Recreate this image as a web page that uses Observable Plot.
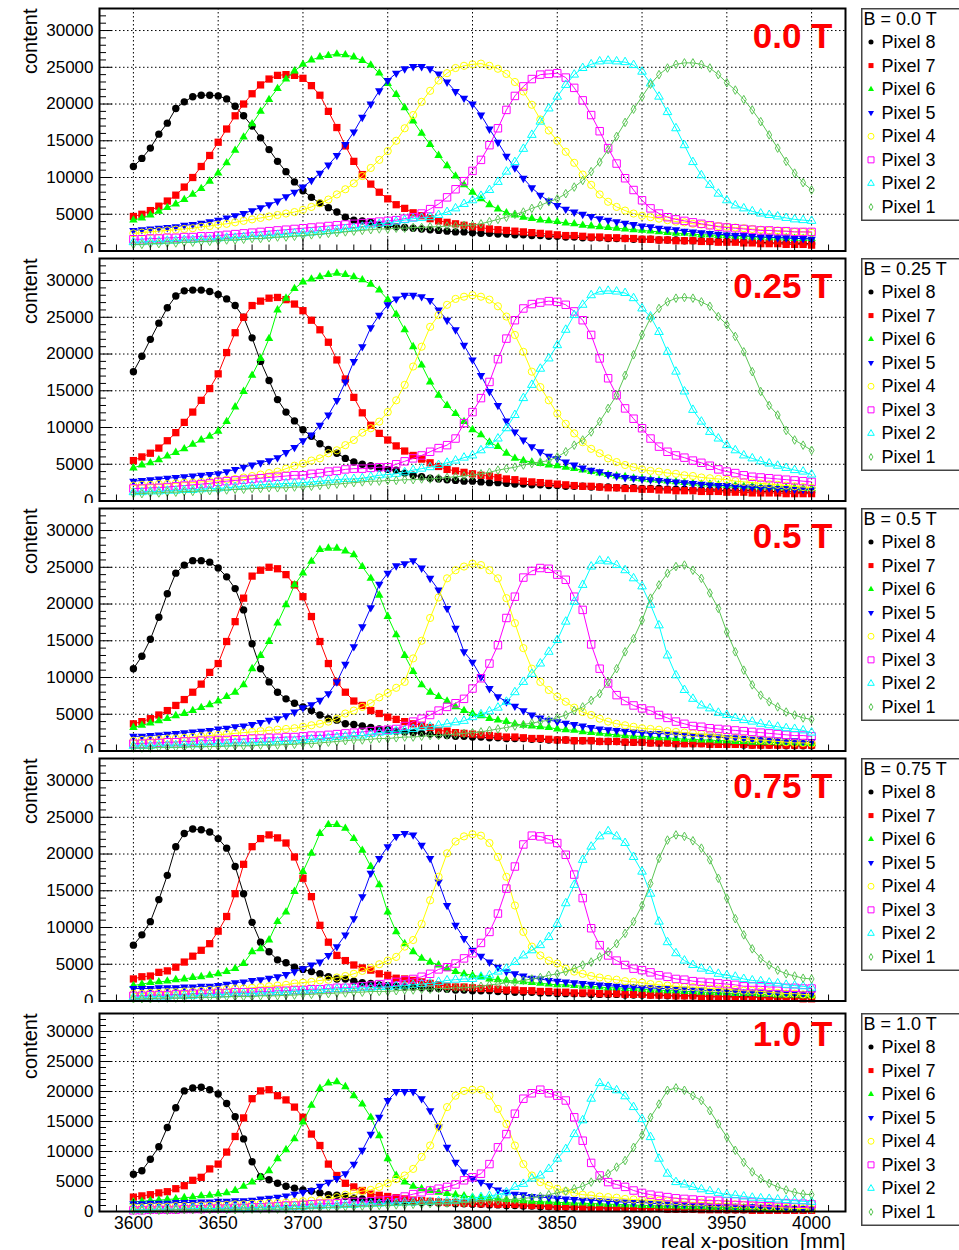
<!DOCTYPE html>
<html><head><meta charset="utf-8">
<script src="https://cdn.jsdelivr.net/npm/d3@7"></script>
<script src="https://cdn.jsdelivr.net/npm/@observablehq/plot@0.6"></script>
<style>
html,body{margin:0;padding:0;background:#fff;}
#page{position:relative;width:959px;height:1250px;overflow:hidden;background:#fff;font-family:"Liberation Sans",Arial,Helvetica,sans-serif;}
.pad{position:absolute;left:0;width:959px;}
.pad svg{display:block;overflow:hidden;background:transparent;}
.legend{position:absolute;left:861px;}
.legend svg{display:block;overflow:visible;}
</style></head><body><div id="page"></div>
<script>
// ---------- data (content in thousands of counts, one value every 5 mm) ----------
const positions = d3.range(3600, 4001, 5); // real x-position [mm]
const fieldLabels = ["0.0 T", "0.25 T", "0.5 T", "0.75 T", "1.0 T"];
const legendHeaders = ["B = 0.0 T", "B = 0.25 T", "B = 0.5 T", "B = 0.75 T", "B = 1.0 T"];
const pixelNames = ["Pixel 8", "Pixel 7", "Pixel 6", "Pixel 5", "Pixel 4", "Pixel 3", "Pixel 2", "Pixel 1"];
const yMajorTicks = [0, 5000, 10000, 15000, 20000, 25000, 30000];
const xMajorTicks = [3600, 3650, 3700, 3750, 3800, 3850, 3900, 3950, 4000];

const b00_p8 = [11.5,12.6,14.0,15.9,17.4,19.4,20.3,21.0,21.2,21.2,21.1,20.7,19.7,18.4,17.0,15.4,13.8,12.2,10.8,9.4,8.2,7.3,6.5,5.9,5.3,4.6,4.2,4.1,3.9,3.6,3.4,3.3,3.2,3.1,3.0,2.9,2.8,2.7,2.6,2.6,2.5,2.4,2.4,2.3,2.3,2.2,2.2,2.1,2.1,2.0,2.0,1.9,1.9,1.8,1.8,1.8,1.7,1.7,1.7,1.6,1.6,1.6,1.5,1.5,1.5,1.4,1.4,1.4,1.3,1.3,1.3,1.3,1.2,1.2,1.2,1.1,1.1,1.1,1.1,1.0,1.0];
const b00_p7 = [4.7,5.0,5.5,6.1,6.8,7.6,8.7,10.0,11.5,13.0,14.8,16.6,18.4,20.0,21.4,22.6,23.4,23.9,24.0,23.9,23.5,22.5,21.2,19.0,16.8,14.3,12.2,10.4,9.1,8.0,7.1,6.3,5.8,5.2,4.8,4.4,4.1,3.9,3.7,3.5,3.3,3.2,3.0,2.9,2.8,2.7,2.6,2.5,2.4,2.3,2.2,2.1,2.1,2.0,1.9,1.9,1.8,1.8,1.7,1.7,1.6,1.6,1.5,1.5,1.4,1.4,1.4,1.3,1.3,1.2,1.2,1.2,1.1,1.1,1.0,1.0,1.0,0.9,0.9,0.9,0.8];
const b00_p6 = [4.2,4.5,4.9,5.4,5.9,6.4,7.0,7.7,8.5,9.5,10.6,12.0,13.7,15.5,17.3,19.0,20.6,22.1,23.4,24.5,25.4,26.0,26.4,26.6,26.8,26.7,26.4,25.9,25.3,24.2,22.8,21.3,19.5,17.7,16.0,14.5,13.0,11.6,10.2,9.0,8.0,7.1,6.3,5.7,5.2,4.9,4.6,4.4,4.2,4.1,4.0,3.8,3.7,3.5,3.4,3.3,3.2,3.1,3.0,2.9,2.8,2.7,2.6,2.5,2.4,2.4,2.3,2.2,2.2,2.1,2.1,2.0,2.0,1.9,1.9,1.8,1.8,1.8,1.7,1.7,1.7];
const b00_p5 = [2.8,2.9,3.0,3.1,3.2,3.3,3.5,3.6,3.8,4.0,4.2,4.5,4.8,5.1,5.5,5.9,6.3,6.8,7.4,8.0,8.7,9.6,10.6,11.7,13.0,14.5,16.2,18.2,20.0,21.8,23.2,24.2,24.8,25.1,25.1,24.8,24.1,23.0,21.7,20.8,20.0,18.5,16.6,14.8,12.9,11.3,9.9,8.6,7.6,6.8,6.2,5.7,5.3,5.0,4.7,4.4,4.2,4.0,3.8,3.6,3.4,3.3,3.1,3.0,2.9,2.7,2.6,2.5,2.4,2.3,2.2,2.1,2.1,2.0,1.9,1.9,1.8,1.8,1.7,1.7,1.6];
const b00_p4 = [2.4,2.5,2.6,2.7,2.8,2.9,3.0,3.1,3.3,3.4,3.6,3.7,3.9,4.1,4.3,4.5,4.7,4.9,5.1,5.3,5.6,6.0,6.5,7.0,7.7,8.4,9.2,10.2,11.3,12.4,13.6,15.0,16.7,18.5,20.3,21.8,23.2,24.2,24.9,25.2,25.4,25.5,25.2,24.8,24.1,23.0,21.7,19.9,17.9,16.4,15.0,13.5,12.0,10.4,9.0,7.7,6.7,6.0,5.5,5.1,4.8,4.6,4.4,4.2,4.0,3.9,3.7,3.6,3.5,3.4,3.3,3.2,3.1,3.0,2.9,2.8,2.8,2.7,2.6,2.6,2.5];
const b00_p3 = [1.6,1.6,1.7,1.7,1.8,1.8,1.9,1.9,2.0,2.0,2.1,2.2,2.3,2.4,2.5,2.6,2.7,2.8,2.9,3.0,3.1,3.2,3.3,3.4,3.5,3.6,3.7,3.8,3.9,4.0,4.1,4.2,4.4,4.6,5.1,5.7,6.4,7.3,8.4,9.5,10.9,12.4,14.4,16.7,19.2,21.1,22.4,23.4,24.0,24.1,24.2,23.6,22.2,20.5,18.5,16.3,14.0,11.9,9.9,8.3,6.9,5.8,5.1,4.6,4.3,4.1,3.9,3.7,3.5,3.3,3.2,3.1,3.0,2.9,2.8,2.8,2.7,2.7,2.6,2.6,2.6];
const b00_p2 = [1.2,1.2,1.3,1.3,1.4,1.4,1.5,1.5,1.6,1.6,1.7,1.8,1.8,1.9,2.0,2.0,2.1,2.2,2.3,2.4,2.4,2.5,2.6,2.7,2.8,3.0,3.1,3.3,3.5,3.7,3.8,4.0,4.2,4.4,4.5,4.6,4.9,5.3,5.8,6.4,6.9,7.5,8.3,9.4,10.8,12.1,13.9,15.8,17.6,19.4,21.0,22.6,24.0,24.9,25.4,25.8,25.9,25.8,25.7,25.3,24.4,22.8,21.0,18.9,16.7,14.4,12.1,10.3,9.0,7.8,6.9,6.2,5.8,5.4,5.1,4.9,4.7,4.5,4.3,4.2,4.1];
const b00_p1 = [0.9,0.9,1.0,1.0,1.1,1.1,1.2,1.2,1.3,1.3,1.4,1.5,1.5,1.6,1.7,1.7,1.8,1.9,1.9,2.0,2.1,2.2,2.3,2.4,2.5,2.6,2.7,2.8,2.9,3.0,3.0,3.1,3.1,3.2,3.2,3.3,3.3,3.4,3.4,3.5,3.5,3.7,4.0,4.3,4.6,5.0,5.3,5.8,6.2,6.7,7.1,7.8,8.7,9.6,10.8,12.1,13.8,15.6,17.5,19.3,21.0,22.7,24.0,24.9,25.4,25.6,25.6,25.4,24.9,24.0,22.9,21.9,20.6,19.2,17.6,15.8,14.0,12.2,10.6,9.3,8.3];

const b025_p8 = [17.6,19.7,22.0,24.2,26.3,27.9,28.6,28.7,28.7,28.5,28.1,27.5,26.6,25.0,22.2,19.0,16.4,13.8,12.1,10.9,9.7,8.8,7.8,7.0,6.5,5.8,5.3,5.0,4.8,4.5,4.3,4.2,3.8,3.5,3.3,3.1,3.0,2.9,2.8,2.7,2.7,2.6,2.5,2.5,2.4,2.3,2.3,2.2,2.2,2.1,2.1,2.0,2.0,2.0,1.9,1.9,1.9,1.8,1.8,1.8,1.7,1.7,1.7,1.6,1.6,1.6,1.5,1.5,1.5,1.5,1.4,1.4,1.4,1.4,1.3,1.3,1.3,1.3,1.2,1.2,1.2];
const b025_p7 = [5.5,6.0,6.5,7.2,8.2,9.3,10.7,12.1,13.7,15.3,17.3,20.2,22.9,25.0,26.6,27.2,27.6,27.7,27.4,26.8,25.9,24.6,23.3,21.6,19.2,16.6,14.1,12.0,10.3,9.2,8.3,7.5,6.8,6.2,5.7,5.2,4.7,4.3,4.1,3.9,3.7,3.5,3.4,3.2,3.0,2.9,2.7,2.6,2.5,2.4,2.3,2.2,2.1,2.0,2.0,1.9,1.8,1.8,1.7,1.7,1.6,1.6,1.5,1.5,1.4,1.4,1.4,1.3,1.3,1.3,1.2,1.2,1.2,1.1,1.1,1.1,1.1,1.0,1.0,1.0,1.0];
const b025_p6 = [4.5,4.9,5.2,5.6,6.1,6.6,7.1,7.7,8.3,8.8,9.5,10.8,12.8,14.9,17.1,19.4,22.1,26.0,27.6,28.9,29.8,30.2,30.5,30.8,31.0,30.8,30.5,30.1,29.5,28.7,27.4,25.4,23.3,21.0,18.5,16.2,14.4,13.0,11.9,10.8,9.7,9.0,8.0,7.4,6.5,5.8,5.5,5.3,5.1,4.9,4.8,4.6,4.4,4.2,4.0,3.8,3.6,3.4,3.3,3.1,3.0,2.9,2.8,2.7,2.6,2.5,2.4,2.3,2.3,2.2,2.1,2.1,2.0,2.0,1.9,1.9,1.8,1.8,1.8,1.7,1.7];
const b025_p5 = [2.7,2.8,2.9,3.0,3.1,3.2,3.3,3.4,3.5,3.6,3.7,4.0,4.3,4.6,4.9,5.2,5.5,5.9,6.6,7.3,8.2,9.0,10.3,11.7,13.7,16.2,19.0,21.0,23.6,25.3,26.7,27.5,28.0,28.0,27.8,27.3,26.0,24.6,23.3,21.2,19.2,17.1,14.9,13.0,10.9,9.4,8.3,7.4,6.7,6.1,5.8,5.3,4.9,4.5,4.2,4.0,3.6,3.4,3.2,3.1,3.0,2.9,2.8,2.7,2.6,2.5,2.4,2.3,2.2,2.1,2.1,2.0,1.9,1.9,1.8,1.8,1.7,1.7,1.6,1.6,1.5];
const b025_p4 = [2.1,2.2,2.2,2.3,2.3,2.4,2.5,2.5,2.6,2.7,2.8,2.9,3.0,3.2,3.4,3.6,3.8,4.0,4.4,4.8,5.1,5.5,5.8,6.5,6.9,7.6,8.3,9.3,9.9,10.8,12.1,13.7,15.8,18.3,21.0,23.7,25.3,26.7,27.5,27.8,28.0,27.8,27.4,26.5,25.1,22.6,20.3,17.6,15.5,13.7,11.9,10.5,9.2,8.0,7.1,6.5,5.8,5.3,4.9,4.6,4.3,4.1,4.0,3.8,3.7,3.5,3.4,3.2,3.1,3.0,2.9,2.7,2.6,2.5,2.4,2.3,2.2,2.1,2.0,1.9,1.8];
const b025_p3 = [1.7,1.7,1.8,1.8,1.9,2.0,2.1,2.2,2.3,2.4,2.6,2.7,2.8,2.9,3.0,3.1,3.2,3.3,3.4,3.5,3.5,3.7,3.8,4.0,4.1,4.3,4.4,4.4,4.5,4.6,4.6,5.0,5.4,5.8,6.2,6.7,7.2,7.6,8.5,10.6,12.1,14.0,16.2,19.3,22.1,24.6,26.2,26.8,27.0,27.2,27.1,26.7,25.8,24.6,22.6,19.4,16.7,14.4,12.6,11.2,9.9,8.5,7.4,6.7,6.2,5.9,5.5,5.2,4.8,4.3,4.0,3.8,3.5,3.3,3.2,3.1,3.0,2.9,2.8,2.7,2.6];
const b025_p2 = [1.2,1.2,1.3,1.3,1.4,1.4,1.5,1.5,1.6,1.7,1.7,1.8,1.9,2.0,2.1,2.2,2.3,2.3,2.4,2.4,2.5,2.6,2.7,2.8,2.9,3.0,3.0,3.1,3.3,3.5,3.6,3.7,3.9,4.2,4.4,4.6,4.9,5.2,5.5,5.9,6.2,6.9,7.6,8.5,9.9,11.7,14.0,15.8,18.0,19.4,21.2,23.3,25.3,26.7,28.0,28.5,28.6,28.5,28.3,27.6,26.2,25.1,23.0,20.3,17.6,14.9,12.4,10.8,9.4,8.5,7.6,6.9,6.2,5.8,5.4,5.1,4.8,4.5,4.2,4.0,3.6];
const b025_p1 = [1.0,1.0,1.1,1.1,1.2,1.2,1.3,1.3,1.4,1.4,1.5,1.5,1.6,1.6,1.7,1.7,1.8,1.8,1.8,1.9,1.9,2.0,2.1,2.2,2.3,2.4,2.5,2.6,2.7,2.7,2.8,2.8,2.9,2.9,3.0,3.0,3.1,3.2,3.3,3.4,3.5,3.7,3.9,4.2,4.4,4.6,4.9,5.1,5.3,5.5,6.0,6.7,7.6,8.3,9.4,10.8,12.6,14.4,17.1,19.9,22.6,24.9,26.2,27.1,27.6,27.7,27.6,27.1,26.5,25.1,24.0,22.4,20.3,17.6,14.9,13.0,11.7,9.6,8.3,7.6,6.9];

const b05_p8 = [11.2,12.9,15.2,18.2,21.4,24.2,25.3,25.9,25.9,25.7,24.9,23.7,22.1,19.2,14.6,11.2,9.4,8.0,7.1,6.5,6.0,5.5,4.9,4.4,4.2,3.7,3.6,3.4,3.2,3.0,2.9,2.7,2.6,2.5,2.4,2.3,2.2,2.1,2.0,2.0,1.9,1.9,1.8,1.8,1.7,1.7,1.7,1.6,1.6,1.5,1.5,1.5,1.4,1.4,1.4,1.3,1.3,1.3,1.2,1.2,1.2,1.1,1.1,1.1,1.0,1.0,1.0,1.0,0.9,0.9,0.9,0.9,0.8,0.8,0.8,0.8,0.8,0.7,0.7,0.7,0.7];
const b05_p7 = [3.7,4.0,4.4,4.9,5.5,6.2,7.0,8.0,9.1,10.7,11.9,14.9,17.6,20.8,23.8,24.6,25.0,24.8,24.0,22.6,21.0,18.3,14.9,11.9,9.4,8.0,6.8,6.2,5.5,5.1,4.6,4.3,4.0,3.7,3.5,3.2,2.8,2.7,2.5,2.4,2.3,2.2,2.1,2.0,1.9,1.9,1.8,1.7,1.7,1.6,1.5,1.5,1.4,1.4,1.4,1.3,1.3,1.3,1.2,1.2,1.2,1.1,1.1,1.1,1.0,1.0,1.0,1.0,0.9,0.9,0.9,0.9,0.9,0.8,0.8,0.8,0.8,0.8,0.8,0.8,0.8];
const b05_p6 = [3.2,3.5,3.8,4.1,4.4,4.8,5.1,5.5,5.9,6.3,6.8,7.4,8.0,9.0,11.2,13.0,14.9,17.4,19.9,22.6,24.2,25.8,27.4,27.6,27.6,27.2,26.7,25.1,23.5,21.2,18.3,15.8,13.0,10.8,9.0,8.0,7.4,6.8,6.0,5.5,5.1,4.8,4.4,4.2,4.0,3.7,3.5,3.4,3.3,3.2,3.0,2.9,2.8,2.6,2.5,2.4,2.3,2.2,2.1,2.0,2.0,1.9,1.8,1.8,1.7,1.6,1.6,1.5,1.5,1.4,1.4,1.3,1.3,1.2,1.2,1.2,1.1,1.1,1.1,1.0,1.0];
const b05_p5 = [2.0,2.0,2.1,2.2,2.3,2.4,2.5,2.6,2.7,2.8,3.0,3.1,3.3,3.4,3.6,3.9,4.2,4.4,4.8,5.3,5.9,6.3,6.9,7.8,9.4,11.8,14.2,16.9,19.5,22.7,24.2,25.2,25.5,25.9,24.9,23.5,21.9,19.4,16.7,13.5,12.1,10.1,8.5,7.4,6.7,6.1,5.5,4.9,4.5,4.2,4.0,3.8,3.6,3.4,3.2,3.0,2.9,2.8,2.7,2.6,2.5,2.4,2.4,2.3,2.3,2.2,2.1,2.0,2.0,1.9,1.8,1.8,1.7,1.6,1.6,1.5,1.5,1.4,1.4,1.3,1.3];
const b05_p4 = [1.4,1.5,1.5,1.6,1.7,1.7,1.8,1.9,2.0,2.1,2.2,2.3,2.4,2.5,2.6,2.7,2.8,2.9,3.0,3.1,3.3,3.5,3.7,4.0,4.4,5.1,5.5,6.0,6.5,7.3,7.9,8.6,9.4,12.6,15.0,18.1,20.9,23.5,24.6,25.1,25.5,25.3,24.6,23.5,20.8,17.4,14.0,11.2,9.4,8.3,7.4,6.7,5.9,5.3,4.9,4.4,4.0,3.7,3.5,3.3,3.1,3.0,2.9,2.7,2.6,2.5,2.4,2.3,2.2,2.1,1.9,1.8,1.7,1.6,1.5,1.4,1.3,1.2,1.1,1.1,1.0];
const b05_p3 = [1.0,1.0,1.1,1.1,1.2,1.2,1.3,1.3,1.4,1.4,1.5,1.5,1.6,1.6,1.7,1.7,1.8,1.8,1.9,1.9,2.0,2.1,2.1,2.2,2.3,2.4,2.5,2.6,2.7,2.8,2.9,3.0,3.4,4.0,4.4,4.9,5.5,6.0,6.5,7.1,8.5,9.9,11.9,14.4,18.1,21.0,23.6,24.5,24.9,24.8,24.0,23.3,21.0,19.2,14.5,11.2,9.2,7.6,6.8,6.2,5.8,5.5,4.9,4.5,4.0,3.7,3.4,3.3,3.1,3.0,2.9,2.8,2.7,2.6,2.5,2.4,2.3,2.2,2.1,2.1,2.0];
const b05_p2 = [0.7,0.7,0.7,0.8,0.8,0.8,0.9,0.9,0.9,1.0,1.0,1.0,1.1,1.1,1.1,1.2,1.2,1.3,1.3,1.4,1.5,1.6,1.7,1.8,1.9,2.0,2.1,2.1,2.3,2.5,2.6,2.7,2.8,3.0,3.2,3.3,3.5,3.7,3.9,4.1,4.6,5.0,5.4,5.9,6.7,8.0,9.4,10.5,11.9,13.5,15.1,17.6,20.3,22.6,25.1,25.9,25.8,25.3,24.6,23.5,22.4,19.9,17.1,13.0,10.3,8.3,7.1,6.2,5.8,5.2,4.9,4.5,4.2,4.0,3.7,3.5,3.3,3.1,3.0,2.8,2.5];
const b05_p1 = [0.4,0.4,0.4,0.5,0.5,0.5,0.5,0.6,0.6,0.6,0.6,0.7,0.7,0.7,0.7,0.8,0.8,0.8,0.9,0.9,1.0,1.0,1.1,1.2,1.3,1.4,1.5,1.5,1.6,1.7,1.7,1.8,1.9,1.9,2.0,2.1,2.1,2.2,2.3,2.4,2.5,2.6,2.8,3.0,3.2,3.4,3.6,3.8,4.0,4.2,4.5,4.9,5.5,6.0,6.9,7.8,9.4,11.2,13.5,15.3,17.8,20.8,22.6,24.2,25.1,25.3,24.6,23.5,21.5,19.4,16.2,13.5,11.0,9.0,7.6,6.7,6.0,5.3,4.9,4.5,4.3];

const b075_p8 = [7.6,9.0,10.8,13.8,17.1,21.0,22.8,23.4,23.3,23.0,22.1,20.8,18.3,14.6,10.7,8.0,6.7,5.6,5.2,4.6,4.3,4.0,3.7,3.3,3.0,3.0,2.7,2.5,2.4,2.2,2.1,2.0,1.9,1.9,1.8,1.7,1.7,1.6,1.5,1.5,1.4,1.4,1.4,1.3,1.3,1.2,1.2,1.2,1.1,1.1,1.0,1.0,1.0,1.0,0.9,0.9,0.9,0.9,0.8,0.8,0.8,0.8,0.8,0.7,0.7,0.7,0.7,0.7,0.6,0.6,0.6,0.6,0.6,0.6,0.5,0.5,0.5,0.5,0.5,0.5,0.5];
const b075_p7 = [3.0,3.3,3.4,3.9,4.1,4.6,5.3,6.1,6.9,7.8,9.5,11.5,14.6,18.6,21.0,22.1,22.6,22.2,21.5,19.6,16.7,14.2,10.3,8.0,6.2,5.5,4.9,4.5,4.2,3.7,3.5,3.1,3.0,2.8,2.6,2.4,2.2,2.0,1.9,1.9,1.8,1.7,1.7,1.6,1.5,1.5,1.4,1.4,1.3,1.3,1.2,1.2,1.1,1.1,1.1,1.0,1.0,1.0,0.9,0.9,0.9,0.8,0.8,0.8,0.7,0.7,0.7,0.6,0.6,0.6,0.6,0.5,0.5,0.5,0.5,0.4,0.4,0.4,0.4,0.3,0.3];
const b075_p6 = [2.1,2.3,2.5,2.6,2.7,2.9,3.0,3.2,3.3,3.5,3.7,4.0,4.4,5.1,6.7,7.1,8.3,10.8,12.1,14.9,17.6,20.1,22.8,24.0,24.0,23.5,22.1,20.5,18.3,15.8,12.1,9.4,7.8,6.7,5.8,5.3,4.9,4.4,4.0,3.7,3.5,3.3,3.0,2.9,2.8,2.7,2.6,2.5,2.4,2.3,2.2,2.2,2.1,2.0,2.0,1.9,1.8,1.8,1.7,1.7,1.6,1.5,1.5,1.4,1.4,1.3,1.3,1.2,1.2,1.1,1.1,1.0,1.0,1.0,0.9,0.9,0.8,0.8,0.8,0.7,0.7];
const b075_p5 = [1.7,1.7,1.7,1.8,1.8,1.8,1.9,1.9,2.0,2.0,2.1,2.3,2.5,2.6,2.8,2.9,3.1,3.3,3.6,4.0,4.4,4.9,5.3,6.2,7.4,9.0,11.2,14.2,17.4,19.4,21.0,22.4,22.8,22.6,21.2,19.4,16.2,13.0,10.3,8.5,6.9,6.1,5.3,4.6,4.0,3.7,3.4,3.1,3.0,2.8,2.7,2.6,2.5,2.4,2.3,2.2,2.1,2.0,1.9,1.9,1.8,1.8,1.7,1.7,1.6,1.6,1.5,1.5,1.4,1.4,1.3,1.3,1.2,1.2,1.2,1.1,1.1,1.1,1.0,1.0,1.0];
const b075_p4 = [1.0,1.0,1.1,1.1,1.2,1.2,1.3,1.3,1.4,1.5,1.5,1.6,1.7,1.7,1.8,1.9,2.0,2.1,2.2,2.4,2.5,2.6,2.8,2.9,3.2,3.4,3.7,4.1,4.5,5.0,5.5,6.0,7.4,8.3,10.5,13.7,16.9,20.1,21.7,22.4,22.7,22.5,21.5,19.6,16.9,13.0,9.4,7.4,6.2,5.5,5.1,4.4,4.0,3.7,3.4,3.2,3.0,2.9,2.7,2.6,2.5,2.3,2.2,2.1,2.0,1.9,1.9,1.8,1.7,1.7,1.6,1.5,1.4,1.4,1.3,1.2,1.1,1.0,1.0,0.9,0.8];
const b075_p3 = [0.7,0.7,0.8,0.8,0.8,0.9,0.9,1.0,1.0,1.0,1.1,1.1,1.2,1.2,1.2,1.3,1.3,1.4,1.4,1.5,1.5,1.6,1.6,1.7,1.8,1.8,1.9,2.0,2.1,2.3,2.4,2.6,2.8,3.0,3.3,3.7,4.3,4.6,5.1,5.8,6.5,7.9,9.4,11.9,15.3,18.3,21.3,22.5,22.4,22.0,21.5,19.9,17.2,14.0,9.9,7.6,6.2,5.5,4.9,4.4,4.2,3.9,3.5,3.3,3.0,2.9,2.7,2.6,2.5,2.4,2.3,2.2,2.0,2.0,2.0,1.9,1.9,1.8,1.8,1.7,1.7];
const b075_p2 = [0.5,0.5,0.6,0.6,0.6,0.7,0.7,0.7,0.8,0.8,0.9,0.9,1.0,1.0,1.0,1.1,1.1,1.2,1.2,1.3,1.4,1.4,1.5,1.6,1.6,1.7,1.7,1.8,1.8,1.9,1.9,2.0,2.1,2.2,2.3,2.4,2.6,2.8,2.9,3.0,3.0,3.3,3.5,4.0,4.4,5.3,6.2,6.9,7.6,8.7,10.5,13.3,15.8,19.2,21.0,22.4,23.1,22.4,21.5,19.6,17.6,14.6,10.8,8.0,6.5,5.5,4.9,4.4,4.1,3.7,3.5,3.3,3.0,2.8,2.7,2.5,2.4,2.2,2.1,2.0,1.8];
const b075_p1 = [0.3,0.3,0.3,0.4,0.4,0.4,0.4,0.5,0.5,0.5,0.5,0.6,0.6,0.6,0.6,0.7,0.7,0.7,0.8,0.8,0.9,0.9,1.0,1.0,1.1,1.1,1.2,1.2,1.3,1.3,1.3,1.4,1.5,1.5,1.6,1.6,1.7,1.7,1.8,1.8,1.9,2.0,2.2,2.3,2.5,2.6,2.8,3.0,3.2,3.5,3.7,4.0,4.4,4.9,5.3,6.0,6.7,7.8,9.2,10.8,13.0,16.0,19.4,21.9,22.6,22.4,21.8,20.8,19.2,16.7,14.0,11.2,9.0,7.1,5.8,4.9,4.2,3.7,3.4,3.1,3.0];

const b10_p8 = [6.2,6.8,8.7,10.8,14.0,17.3,20.1,20.6,20.7,20.3,19.6,18.0,15.8,12.1,8.3,5.8,5.3,4.7,4.2,3.9,3.6,3.4,3.1,2.8,2.7,2.5,2.2,2.1,1.9,1.8,1.8,1.7,1.6,1.6,1.5,1.5,1.4,1.4,1.3,1.3,1.2,1.2,1.1,1.1,1.0,1.0,0.9,0.9,0.8,0.8,0.7,0.7,0.7,0.7,0.6,0.6,0.6,0.6,0.5,0.5,0.5,0.5,0.5,0.4,0.4,0.4,0.4,0.4,0.4,0.4,0.3,0.3,0.3,0.3,0.3,0.3,0.3,0.3,0.3,0.3,0.3];
const b10_p7 = [2.4,2.6,2.8,3.1,3.3,3.8,4.3,5.2,5.7,7.1,7.9,9.9,12.5,15.6,18.8,20.1,20.3,19.3,18.6,17.4,15.7,12.9,11.0,7.9,6.0,4.7,4.1,3.5,2.9,2.7,2.5,2.3,2.1,1.9,1.8,1.7,1.6,1.5,1.5,1.4,1.4,1.3,1.3,1.2,1.2,1.2,1.1,1.0,1.0,0.9,0.8,0.8,0.8,0.7,0.7,0.7,0.6,0.6,0.6,0.5,0.5,0.5,0.5,0.4,0.4,0.4,0.4,0.3,0.3,0.3,0.3,0.3,0.3,0.2,0.2,0.2,0.2,0.2,0.2,0.2,0.2];
const b10_p6 = [1.6,1.7,1.8,1.9,2.0,2.1,2.3,2.4,2.6,2.7,2.9,3.1,3.5,4.2,4.9,5.7,6.8,8.8,10.3,12.1,14.9,17.7,20.5,21.4,21.6,20.8,19.3,17.9,15.7,12.6,8.8,6.0,4.9,4.2,3.8,3.5,3.2,3.0,2.8,2.6,2.4,2.3,2.2,2.1,2.0,1.9,1.8,1.7,1.6,1.6,1.5,1.5,1.4,1.4,1.3,1.3,1.2,1.2,1.1,1.1,1.0,1.0,0.9,0.9,0.9,0.8,0.8,0.8,0.7,0.7,0.7,0.6,0.6,0.6,0.5,0.5,0.5,0.5,0.4,0.4,0.4];
const b10_p5 = [1.3,1.3,1.4,1.4,1.4,1.5,1.5,1.5,1.6,1.6,1.7,1.7,1.8,1.8,1.9,2.1,2.2,2.4,2.6,2.9,3.2,3.5,4.2,4.9,5.5,6.3,7.9,10.2,12.9,15.7,18.5,20.0,20.0,20.0,18.8,16.8,14.1,10.7,8.2,6.6,5.5,4.9,4.3,3.6,3.2,2.9,2.8,2.5,2.4,2.3,2.2,2.1,2.0,1.9,1.9,1.8,1.7,1.6,1.6,1.5,1.5,1.4,1.3,1.3,1.2,1.2,1.1,1.1,1.0,1.0,0.9,0.9,0.8,0.8,0.7,0.7,0.6,0.6,0.5,0.5,0.4];
const b10_p4 = [0.7,0.7,0.8,0.8,0.8,0.9,0.9,0.9,1.0,1.0,1.1,1.1,1.2,1.2,1.3,1.3,1.4,1.4,1.5,1.6,1.7,1.8,1.9,2.1,2.4,2.8,3.1,3.4,3.6,4.1,4.7,5.4,6.0,7.1,9.1,11.0,14.1,17.4,19.3,20.1,20.3,20.3,19.3,17.1,14.6,11.0,7.9,6.0,4.9,4.3,3.8,3.4,3.1,2.8,2.7,2.5,2.4,2.3,2.1,2.0,1.9,1.9,1.8,1.7,1.7,1.6,1.5,1.5,1.4,1.3,1.3,1.2,1.1,1.0,0.9,0.8,0.7,0.6,0.5,0.5,0.4];
const b10_p3 = [0.2,0.2,0.3,0.3,0.3,0.3,0.4,0.4,0.4,0.5,0.5,0.5,0.6,0.6,0.7,0.7,0.8,0.9,1.0,1.0,1.1,1.2,1.3,1.3,1.4,1.5,1.6,1.6,1.7,1.8,1.9,2.1,2.5,2.9,3.2,3.5,3.8,4.1,4.5,5.2,5.7,6.3,7.9,10.7,12.9,16.3,18.8,19.7,20.3,19.7,19.3,18.5,15.7,11.8,8.1,6.0,4.9,4.5,4.1,3.5,3.1,2.8,2.6,2.4,2.2,2.1,2.0,1.9,1.8,1.8,1.7,1.7,1.6,1.6,1.5,1.5,1.4,1.4,1.3,1.3,1.2];
const b10_p2 = [0.3,0.3,0.3,0.4,0.4,0.4,0.4,0.5,0.5,0.5,0.5,0.6,0.6,0.6,0.6,0.7,0.7,0.7,0.7,0.8,0.8,0.9,0.9,1.0,1.0,1.1,1.1,1.2,1.3,1.3,1.4,1.4,1.5,1.5,1.6,1.6,1.7,1.7,1.8,2.0,2.2,2.4,2.6,2.8,3.2,4.1,4.6,5.5,6.0,7.1,8.8,10.4,12.9,15.2,18.8,21.4,20.8,20.2,19.2,17.4,15.4,12.4,8.8,6.3,4.9,4.5,4.1,3.7,3.4,3.1,2.8,2.7,2.5,2.3,2.2,2.1,2.0,1.9,1.8,1.7,1.6];
const b10_p1 = [0.2,0.2,0.2,0.2,0.2,0.3,0.3,0.3,0.3,0.3,0.3,0.3,0.3,0.4,0.4,0.4,0.4,0.4,0.4,0.5,0.5,0.6,0.6,0.7,0.7,0.8,0.8,0.9,0.9,1.0,1.0,1.1,1.1,1.2,1.2,1.3,1.3,1.4,1.5,1.5,1.6,1.7,1.8,1.8,1.9,2.0,2.2,2.3,2.5,2.8,3.1,3.4,3.8,4.2,4.9,5.5,6.3,7.4,8.5,10.7,12.7,15.7,17.9,20.2,20.6,20.2,19.3,18.5,16.8,14.6,12.4,10.2,8.2,6.6,5.5,4.7,4.1,3.6,3.2,2.9,2.8];

const panelSeries = [
  [b00_p8, b00_p7, b00_p6, b00_p5, b00_p4, b00_p3, b00_p2, b00_p1],
  [b025_p8, b025_p7, b025_p6, b025_p5, b025_p4, b025_p3, b025_p2, b025_p1],
  [b05_p8, b05_p7, b05_p6, b05_p5, b05_p4, b05_p3, b05_p2, b05_p1],
  [b075_p8, b075_p7, b075_p6, b075_p5, b075_p4, b075_p3, b075_p2, b075_p1],
  [b10_p8, b10_p7, b10_p6, b10_p5, b10_p4, b10_p3, b10_p2, b10_p1]
];
const UNIT = 1000; // values above are in thousands

// ---------- styles ----------
const FONT = '"Liberation Sans", Arial, Helvetica, sans-serif';
const triangleDown = {
  draw(ctx, size) {
    const y = -Math.sqrt(size / (Math.sqrt(3) * 3));
    ctx.moveTo(0, -y * 2);
    ctx.lineTo(-Math.sqrt(3) * y, y);
    ctx.lineTo(Math.sqrt(3) * y, y);
    ctx.closePath();
  }
};
const seriesStyle = [
  {color: "#000000", symbol: d3.symbolCircle,   filled: true,  r: 3.7,  lsize: 20},
  {color: "#ff0000", symbol: d3.symbolSquare,   filled: true,  r: 4.1,  lsize: 25},
  {color: "#00ff00", symbol: d3.symbolTriangle, filled: true,  r: 3.15, lsize: 16},
  {color: "#0000ff", symbol: triangleDown,      filled: true,  r: 3.15, lsize: 16},
  {color: "#ffff00", symbol: d3.symbolCircle,   filled: false, r: 3.6,  lsize: 28},
  {color: "#ff00ff", symbol: d3.symbolSquare,   filled: false, r: 4.2,  lsize: 36},
  {color: "#00ffff", symbol: d3.symbolTriangle, filled: false, r: 3.2,  lsize: 19},
  {color: "#5cc656", symbol: d3.symbolDiamond,  filled: false, r: 2.6,  lsize: 13}
];

const yMinorTicks = d3.range(0, 33001, 1000).filter(v => v % 5000 !== 0);
const xMinorTicks = d3.range(3580, 4021, 10).filter(v => v % 50 !== 0);

const page = document.getElementById("page");

const padGeom = [
  {top: 0,    height: 253, mt: 8,  mb: 2.5, labelDy: 14.2},
  {top: 250,  height: 253, mt: 8,  mb: 2.5, labelDy: 14.2},
  {top: 500,  height: 253, mt: 8,  mb: 2.5, labelDy: 14.2},
  {top: 750,  height: 253, mt: 8,  mb: 2.5, labelDy: 14.2},
  {top: 1000, height: 250, mt: 13, mb: 39,  labelDy: 7.2}
];

panelSeries.forEach((series, p) => {
  const g = padGeom[p];
  const last = p === panelSeries.length - 1;
  const seriesMarks = [];
  series.forEach((vals, s) => {
    const st = seriesStyle[s];
    const rows = vals.map((v, i) => ({x: positions[i], y: v * UNIT}));
    seriesMarks.push(Plot.line(rows, {x: "x", y: "y", stroke: st.color, strokeWidth: 1}));
    seriesMarks.push(Plot.dot(rows, {
      x: "x", y: "y", symbol: st.symbol, r: st.r,
      fill: st.filled ? st.color : "none",
      stroke: st.filled ? "none" : st.color,
      strokeWidth: 1
    }));
  });

  const marks = [
    Plot.gridX({ticks: xMajorTicks, stroke: "black", strokeOpacity: 1, strokeWidth: 1, strokeDasharray: "1.5,2.5"}),
    Plot.gridY({ticks: yMajorTicks.filter(v => v > 0), stroke: "black", strokeOpacity: 1, strokeWidth: 1, strokeDasharray: "1.5,2.5"}),
    ...seriesMarks,
    Plot.axisY({ticks: yMajorTicks, anchor: "left", tickSize: -13, tickPadding: 19, tickFormat: d3.format("d"), fontSize: 17, label: null, stroke: "black"}),
    Plot.axisY({ticks: yMinorTicks, anchor: "left", tickSize: -7, tickFormat: () => "", label: null, stroke: "black"}),
    Plot.axisX({ticks: xMajorTicks, anchor: "bottom", tickSize: -12, tickFormat: () => "", label: null, stroke: "black"}),
    Plot.axisX({ticks: xMinorTicks, anchor: "bottom", tickSize: -6, tickFormat: () => "", label: null, stroke: "black"}),
    Plot.frame({stroke: "black", strokeWidth: 2}),
    Plot.text([fieldLabels[p]], {text: d => d, frameAnchor: "top-right", lineAnchor: "top", textAnchor: "end", dx: -13, dy: g.labelDy, fontSize: 35, fontWeight: "bold", fill: "#ff0000"}),
    Plot.text(["content"], {text: d => d, frameAnchor: "top-left", lineAnchor: "top", rotate: -90, textAnchor: "end", dx: -76.5, fontSize: 20, fill: "black"})
  ];
  if (last) {
    marks.push(Plot.axisX({ticks: xMajorTicks, anchor: "bottom", tickSize: 0, tickPadding: 5, tickFormat: d3.format("d"), fontSize: 17.5, label: null}));
    marks.push(Plot.text(["real x-position  [mm]"], {text: d => d, frameAnchor: "bottom-right", lineAnchor: "bottom", textAnchor: "end", dx: 0, dy: 36, fontSize: 20.5, fill: "black"}));
  }

  const chart = Plot.plot({
    width: 959, height: g.height,
    marginLeft: 99, marginRight: 114, marginTop: g.mt, marginBottom: g.mb,
    style: {fontFamily: FONT, background: "transparent", overflow: "hidden"},
    x: {domain: [3580, 4020], label: null},
    y: {domain: [0, 33000], label: null},
    marks
  });
  const pad = document.createElement("div");
  pad.className = "pad";
  pad.style.top = g.top + "px";
  pad.style.height = g.height + "px";
  pad.appendChild(chart);
  page.appendChild(pad);

  // legend box
  const frameTop = g.top + g.mt;
  const lg = document.createElement("div");
  lg.className = "legend";
  lg.style.top = frameTop + "px";
  const svg = d3.create("svg").attr("width", 120).attr("height", 214)
    .style("font-family", FONT);
  svg.append("rect").attr("x", 0.75).attr("y", 0.75).attr("width", 130).attr("height", 211.5)
    .attr("fill", "white").attr("stroke", "#444").attr("stroke-width", 1.5);
  svg.append("text").attr("x", 2.5).attr("y", 17).attr("font-size", 18).attr("fill", "black").text(legendHeaders[p]);
  pixelNames.forEach((name, s) => {
    const st = seriesStyle[s];
    const base = 40 + 23.57 * s;
    svg.append("path")
      .attr("transform", `translate(10,${base - 6})`)
      .attr("d", d3.symbol(st.symbol, st.lsize)())
      .attr("fill", st.filled ? st.color : "none")
      .attr("stroke", st.filled ? "none" : st.color)
      .attr("stroke-width", 1);
    svg.append("text").attr("x", 20.5).attr("y", base).attr("font-size", 18).attr("fill", "black").text(name);
  });
  lg.appendChild(svg.node());
  page.appendChild(lg);
});
</script>
</body></html>
